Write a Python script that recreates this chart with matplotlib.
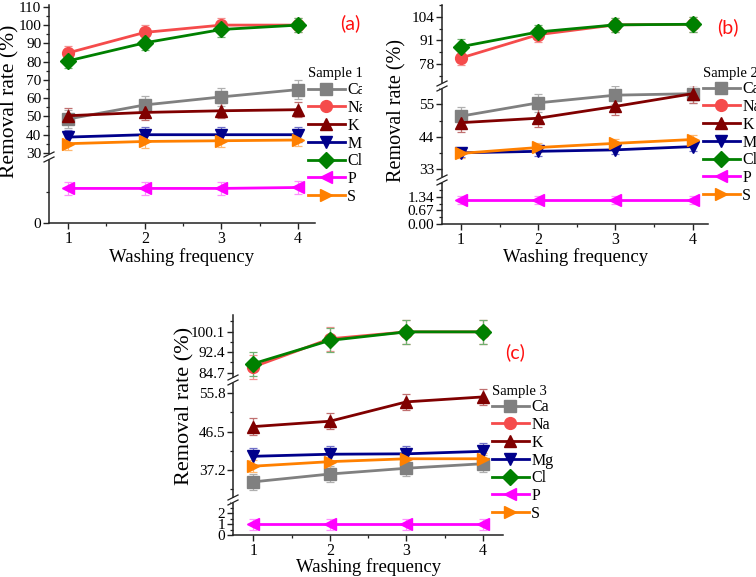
import matplotlib
matplotlib.use("Agg")
import matplotlib.pyplot as plt
from matplotlib.lines import Line2D
from matplotlib.patches import Rectangle
from matplotlib.ticker import MultipleLocator, FixedLocator

plt.rcParams['font.family'] = ['Liberation Serif', 'DejaVu Serif']

# ---------------- data ----------------
washing = [1, 2, 3, 4]
elements = ['Ca', 'Na', 'K', 'Mg', 'Cl', 'P', 'S']

# Sample 1 (a)
a_Ca = [48.6, 56.3, 60.7, 64.7]
a_Na = [84.8, 96.0, 100.0, 100.0]
a_K = [50.4, 52.2, 53.1, 53.7]
a_Mg = [38.7, 40.0, 40.0, 40.0]
a_Cl = [80.4, 90.3, 97.6, 100.0]
a_P = [1.10, 1.10, 1.10, 1.13]
a_S = [35.1, 36.3, 36.7, 37.1]
a_err = [5.0, 4.0, 4.0, 4.0, 4.0, 0.2, 3.5]

# Sample 2 (b)
b_Ca = [51.0, 55.5, 58.1, 58.6]
b_Na = [81.4, 94.2, 99.6, 99.9]
b_K = [48.8, 50.3, 54.3, 58.6]
b_Mg = [38.6, 39.1, 39.6, 40.7]
b_Cl = [87.6, 95.7, 99.6, 99.9]
b_P = [1.18, 1.18, 1.18, 1.18]
b_S = [38.4, 40.4, 41.8, 43.1]
b_err = [3.0, 4.0, 3.0, 1.5, 4.0, 0.2, 1.5]

# Sample 3 (c)
c_Ca = [34.3, 36.2, 37.6, 38.7]
c_Na = [86.9, 97.4, 100.0, 100.0]
c_K = [47.7, 49.0, 53.7, 54.9]
c_Mg = [40.5, 41.0, 41.1, 41.7]
c_Cl = [88.1, 96.8, 100.0, 100.0]
c_P = [1.0, 1.0, 1.0, 1.0]
c_S = [38.1, 39.2, 39.9, 39.9]
c_err = [2.0, 4.5, 2.0, 2.0, 4.5, 0.5, 1.5]

# tick labels
a_ticks_top = [30, 40, 50, 60, 70, 80, 90, 100, 110]
a_ticks_bot = [0]
b_ticks_top = [78, 91, 104]
b_ticks_mid = [33, 44, 55]
b_ticks_bot = [0.00, 0.67, 1.34]
b_ticklabels_bot = ['0.00', '0.67', '1.34']
c_ticks_top = [84.7, 92.4, 100.1]
c_ticks_mid = [37.2, 46.5, 55.8]
c_ticks_bot = [0, 1, 2]

# ---------------- style ----------------
colors = ['#808080', '#F54B4B', '#800000', '#00008B', '#008000', '#FF00FF', '#FF8000']
err_colors = ['#B0B0B0', '#F39090', '#C07070', '#7070C8', '#70B070', '#FF90FF', '#FFB870']
markers = ['s', 'o', '^', 'v', 'D', '<', '>']

W, H = 756, 577
fig = plt.figure(figsize=(W / 100, H / 100), dpi=100)

TICK_FS = 11.5


def fx(px):
    return px / W


def fy(py):
    return 1 - py / H


def draw_panel(x0, x1, xlim, segs, series, errs, title, tag, tagpos,
               legpos, ylabpos, ylabsize, xlabpos, lab_fs=11):
    handles = None
    nseg = len(segs)
    for i, (yt, yb, ylim, ticks, labels, minor) in enumerate(segs):
        ax = fig.add_axes([fx(x0), fy(yb), fx(x1 - x0), (yb - yt) / H])
        ax.patch.set_alpha(0)
        ax.set_xlim(*xlim)
        ax.set_ylim(*ylim)
        for s in ('top', 'right'):
            ax.spines[s].set_visible(False)
        for s in ('left', 'bottom'):
            ax.spines[s].set_linewidth(1.1)
            ax.spines[s].set_color('#222222')
        ax.set_yticks(ticks)
        ax.set_yticklabels(labels)
        ax.yaxis.set_minor_locator(minor)
        ax.tick_params(axis='y', which='major', direction='out', length=4,
                       width=1.0, labelsize=lab_fs, pad=1.5, color='#222222')
        ax.tick_params(axis='y', which='minor', direction='out', length=2.5,
                       width=0.9, color='#222222')
        if i < nseg - 1:
            ax.spines['bottom'].set_visible(False)
            ax.tick_params(axis='x', which='both', bottom=False,
                           labelbottom=False)
        else:
            ax.set_xticks(washing)
            ax.xaxis.set_minor_locator(MultipleLocator(0.5))
            ax.tick_params(axis='x', which='major', direction='out',
                           length=4, width=1.0, labelsize=TICK_FS, pad=2,
                           color='#222222')
            ax.tick_params(axis='x', which='minor', direction='out',
                           length=2, width=0.9, color='#222222')
        hs = []
        for k in range(len(elements)):
            ax.errorbar(washing, series[k], yerr=errs[k], fmt='none',
                        ecolor=err_colors[k], elinewidth=0.9, capsize=3,
                        capthick=0.9, zorder=2 + k * 0.01)
            ln, = ax.plot(washing, series[k], color=colors[k],
                          marker=markers[k], ms=8.5, lw=2.0,
                          zorder=3 + k * 0.01)
            hs.append(ln)
        if handles is None:
            handles = hs
    # break marks
    for (yt, yb, *_rest) in segs[:-1]:
        yb_px = yb
        fig.patches.append(Rectangle((fx(x0 - 2), fy(yb_px + 2.5)), 4 / W,
                                     5 / H, transform=fig.transFigure,
                                     facecolor='white', edgecolor='none',
                                     zorder=20))
        for off in (-2.5, 2.5):
            fig.add_artist(Line2D([fx(x0 - 5), fx(x0 + 5)],
                                  [fy(yb_px + off + 2.5), fy(yb_px + off - 2.5)],
                                  color='#222222', lw=0.9, zorder=21))
    fig.legend(handles, elements, title=title, loc='upper left',
               bbox_to_anchor=(fx(legpos[0]), fy(legpos[1])),
               bbox_transform=fig.transFigure, frameon=False,
               fontsize=11.5, title_fontsize=10.5, handlelength=2.3,
               handletextpad=0.15, labelspacing=0.11, borderpad=0,
               borderaxespad=0, alignment='left')
    fig.text(fx(tagpos[0]), fy(tagpos[1]), tag, color='#FF1010',
             fontsize=14, family=['Lato', 'DejaVu Sans'], ha='center',
             va='center')
    fig.text(fx(ylabpos[0]), fy(ylabpos[1]), 'Removal rate (%)',
             rotation=90, ha='center', va='center', fontsize=ylabsize)
    fig.text(fx(xlabpos[0]), fy(xlabpos[1]), 'Washing frequency',
             ha='center', va='center', fontsize=13.5)


# Panel (a)
draw_panel(49, 315, (0.75, 4.22),
           [(5, 157, (27.8, 111), a_ticks_top, [str(t) for t in a_ticks_top],
             MultipleLocator(5)),
            (157, 223, (0, 2.1), a_ticks_bot, ['0'], FixedLocator([1]))],
           [a_Ca, a_Na, a_K, a_Mg, a_Cl, a_P, a_S], a_err, 'Sample 1', '(a)',
           (350, 23), (308, 67.5), (10, 101), 15.5, (182, 257))

# Panel (b)
draw_panel(442, 708, (0.754, 4.2),
           [(5, 86, (66.0, 110.5), b_ticks_top, [str(t) for t in b_ticks_top],
             MultipleLocator(6.5)),
            (86, 180, (29.4, 61.2), b_ticks_mid, [str(t) for t in b_ticks_mid],
             MultipleLocator(5.5)),
            (180, 224, (0, 2.16), b_ticks_bot, b_ticklabels_bot,
             MultipleLocator(0.335))],
           [b_Ca, b_Na, b_K, b_Mg, b_Cl, b_P, b_S], b_err, 'Sample 2', '(b)',
           (728, 27), (703, 66.5), (397, 111), 14.5, (576, 257))

# Panel (c)
draw_panel(233, 503, (0.735, 4.26),
           [(315, 380, (82.0, 106.3), c_ticks_top, [str(t) for t in c_ticks_top],
             MultipleLocator(3.85)),
            (380, 500, (29.9, 59.0), c_ticks_mid, [str(t) for t in c_ticks_mid],
             MultipleLocator(4.65)),
            (500, 535, (0, 3.2), c_ticks_bot, [str(t) for t in c_ticks_bot],
             MultipleLocator(0.5))],
           [c_Ca, c_Na, c_K, c_Mg, c_Cl, c_P, c_S], c_err, 'Sample 3', '(c)',
           (515, 352), (492, 384.5), (185, 406), 16, (369, 567), lab_fs=11)

# clip legend of panel (a) at the panel edge
fig.patches.append(Rectangle((fx(362), fy(290)), 24 / W, 290 / H,
                             transform=fig.transFigure, facecolor='white',
                             edgecolor='none', zorder=30))

fig.savefig('out.png', dpi=100)
